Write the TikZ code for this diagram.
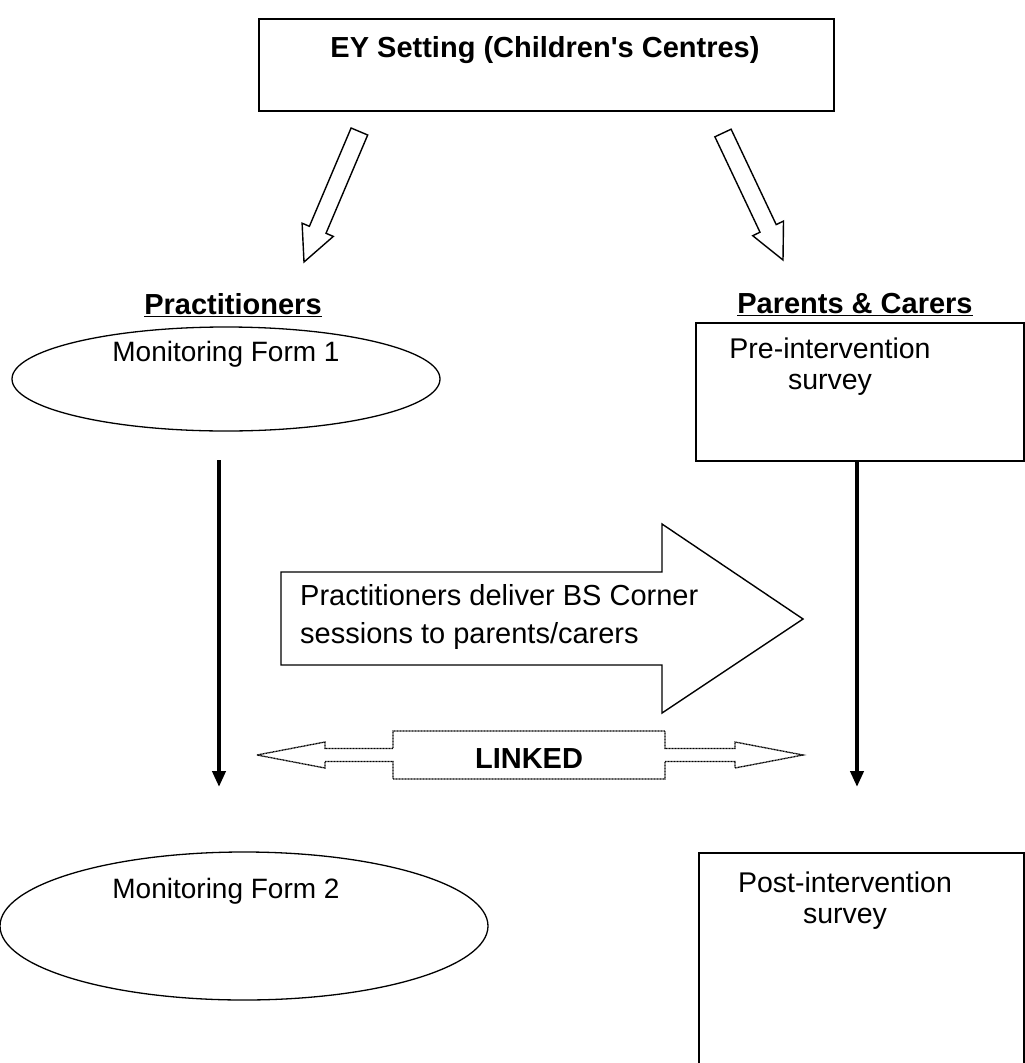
\documentclass[tikz,border=0pt]{standalone}
\usepackage{fontspec}
\newfontfamily\arial{Liberation Sans}
\usetikzlibrary{arrows.meta,shapes.geometric}
\begin{document}
\begin{tikzpicture}[x=1pt,y=-1pt,
  every node/.style={font=\arial\fontsize{28.5}{31}\selectfont, inner sep=0pt},
  hdr/.style={font=\arial\fontsize{29}{31}\selectfont\bfseries},
  elltext/.style={font=\arial\fontsize{28}{31}\selectfont},
  boxline/.style={draw=black, line width=1.6pt},
  ellline/.style={draw=black, line width=1.3pt, ellipse},
  hollow/.style={draw=black, line width=1.4pt, fill=white, line join=miter},
  dotline/.style={draw=black, line width=1.3pt, dash pattern=on 1pt off 0.5pt},
  flow/.style={line width=4.5pt, -{Triangle[width=13pt,length=16pt]}},
]
\useasboundingbox (0,0) rectangle (1025,1063);

% top box
\node[boxline, anchor=north west, minimum width=575pt, minimum height=92pt] (ey) at (258,18) {};
\node[hdr] (eyt) at (545,50) {EY Setting (Children's Centres)};

% hollow slanted arrows
\draw[hollow] (351.1,128.0) -- (309.4,226.3) -- (302.1,223.2) -- (304,262)
  -- (333.3,236.4) -- (326.0,233.3) -- (367.7,135.0) -- cycle;
\draw[hollow] (714.9,136.8) -- (760.0,232.2) -- (752.7,235.7) -- (783,260)
  -- (783.5,221.1) -- (776.2,224.6) -- (731.1,129.2) -- cycle;

% headers
\node[hdr] (prac) at (233,305) {\underline{Practitioners}};
\node[hdr] (par) at (855,305) {\underline{Parents \& Carers}};

% practitioners column
\node[ellline, minimum width=428pt, minimum height=104pt] (mf1) at (226,379) {};
\node[elltext] (mf1t) at (226,354) {Monitoring Form 1};
\node[ellline, minimum width=488pt, minimum height=148pt] (mf2) at (244,926) {};
\node[elltext] (mf2t) at (226,891) {Monitoring Form 2};

% parents column
\node[boxline, anchor=north west, minimum width=328pt, minimum height=138pt] (pre) at (695,322) {};
\node[align=center] (pret) at (830,367) {Pre-intervention\\survey};
\node[boxline, anchor=north west, minimum width=325pt, minimum height=230pt] (post) at (698,852) {};
\node[align=center] (postt) at (845,901) {Post-intervention\\survey};

% vertical flow arrows
\coordinate (l1) at (219,460);
\coordinate (l2) at (219,787);
\coordinate (r1) at (857,462);
\coordinate (r2) at (857,787);
\draw[flow] (l1) -- (l2);
\draw[flow] (r1) -- (r2);

% big block arrow
\draw[hollow] (281,572) -- (662,572) -- (662,524) -- (803,619) -- (662,713)
  -- (662,665) -- (281,665) -- cycle;
\node[align=left, anchor=west, font=\arial\fontsize{29}{38}\selectfont] (deliv) at (300,617)
  {Practitioners deliver BS Corner\\sessions to parents/carers};

% LINKED double arrow
\def\c{755}
\draw[dotline] (257,\c) -- (325,\c-13) -- (325,\c-6.5) -- (393,\c-6.5) -- (393,\c-24)
  -- (665,\c-24) -- (665,\c-6.5) -- (735,\c-6.5) -- (735,\c-13) -- (803,\c)
  -- (735,\c+13) -- (735,\c+6.5) -- (665,\c+6.5) -- (665,\c+24) -- (393,\c+24)
  -- (393,\c+6.5) -- (325,\c+6.5) -- (325,\c+13) -- cycle;
\node[hdr] (link) at (529,759) {LINKED};
\end{tikzpicture}
\end{document}
